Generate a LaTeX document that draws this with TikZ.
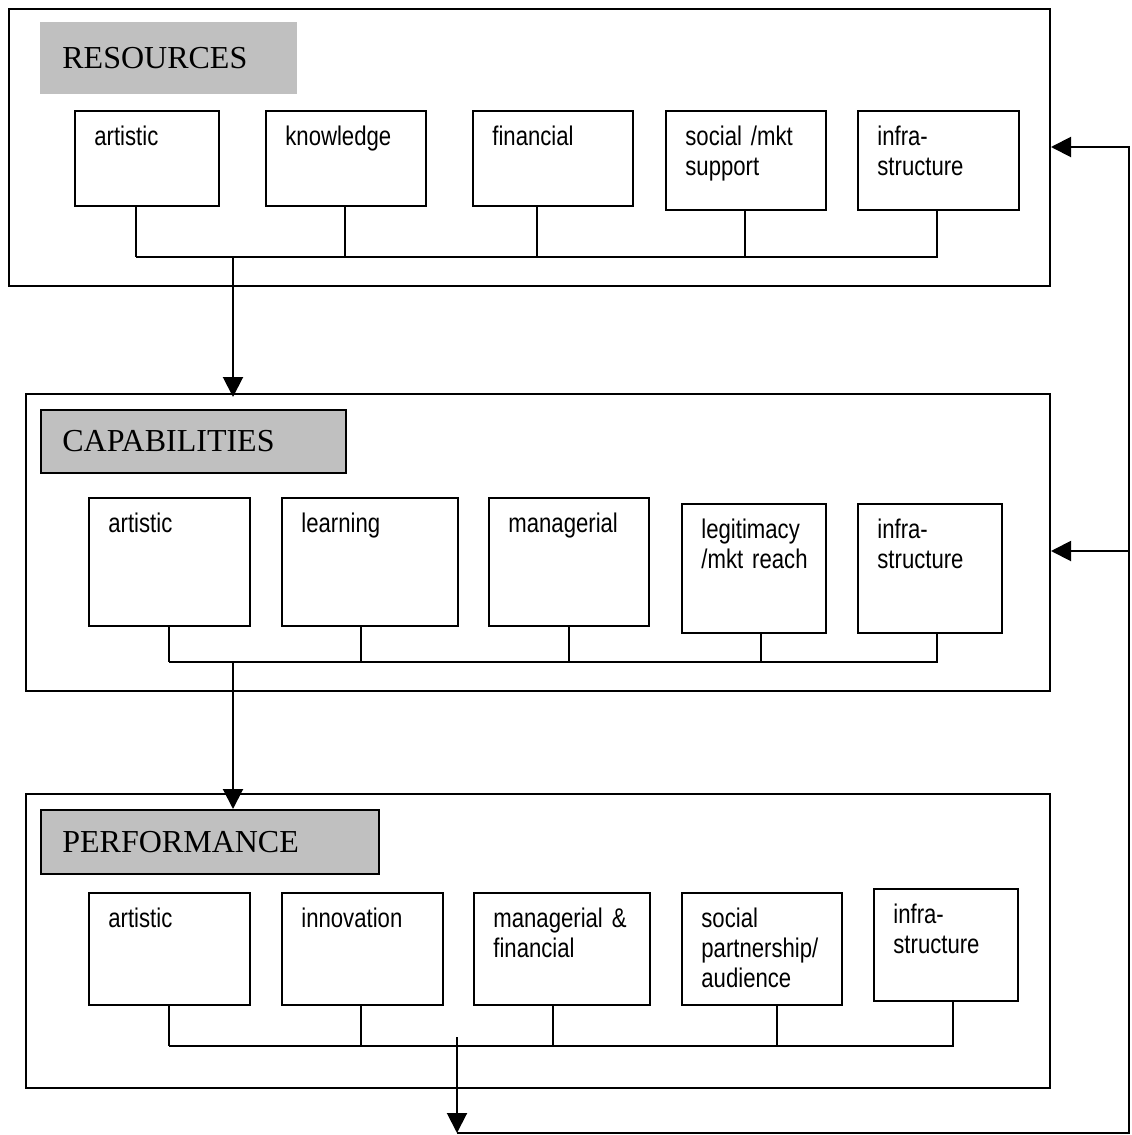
\documentclass[tikz,border=0pt]{standalone}
\usepackage{fontspec}
\setmainfont{Liberation Serif}
\newfontfamily\boxfont[FakeStretch=0.82]{Liberation Sans}
\newcommand\boxtextfont{\fontsize{13.5}{15}\selectfont\boxfont\spaceskip=3pt\relax}
\definecolor{headgray}{HTML}{C0C0C0}
\usetikzlibrary{arrows.meta}

\begin{document}
\begin{tikzpicture}[
    x=0.5pt, y=-0.5pt,
    outer/.style={draw, line width=1pt, anchor=north west, inner sep=0pt},
    head/.style={fill=headgray, anchor=north west, inner sep=0pt},
    headtxt/.style={anchor=west, xshift=11pt, inner sep=0pt,
                    font=\fontsize{16}{19}\selectfont},
    item/.style={draw, line width=1pt, anchor=north west, inner sep=0pt},
    itemtxt/.style={anchor=base west, xshift=10pt, yshift=-17.75pt, inner sep=0pt,
                    text width=75pt, align=left, font=\boxtextfont},
    bus/.style={line width=1pt},
    arr/.style={-{Triangle[length=10pt, width=10pt]}, line width=1pt}
  ]
  \useasboundingbox (0,0) rectangle (1131,1135);

  % resources
  \node[outer, minimum width=520.5pt, minimum height=138.5pt] (resbox) at (8,8) {};
  \node[head, minimum width=128.5pt, minimum height=36pt,
        label={[headtxt]west:RESOURCES}] (reshead) at (40,22) {};
  \node[item, minimum width=72pt, minimum height=47.5pt,
        label={[itemtxt]north west:artistic}] (res1) at (74,110) {};
  \node[item, minimum width=80pt, minimum height=47.5pt,
        label={[itemtxt]north west:knowledge}] (res2) at (265,110) {};
  \node[item, minimum width=80pt, minimum height=47.5pt,
        label={[itemtxt]north west:financial}] (res3) at (472,110) {};
  \node[item, minimum width=80pt, minimum height=49.5pt,
        label={[itemtxt]north west:{social /mkt\\support}}] (res4) at (665,110) {};
  \node[item, minimum width=80.5pt, minimum height=49.5pt,
        label={[itemtxt]north west:{infra-\\structure}}] (res5) at (857,110) {};

  \coordinate (resbusL) at (136,257);
  \coordinate (resbusR) at (937,257);
  \draw[bus] (resbusL) -- (resbusR);
  \foreach \b/\x in {res1/136, res2/345, res3/537, res4/745, res5/937}
    \draw[bus] (\b.south -| \x,0) |- (resbusL);

  % capabilities
  \node[outer, minimum width=512pt, minimum height=148.5pt] (capbox) at (25,393) {};
  \node[head, draw, line width=1pt, minimum width=152.5pt, minimum height=31.5pt,
        label={[headtxt]west:CAPABILITIES}] (caphead) at (40,409) {};
  \node[item, minimum width=80.5pt, minimum height=64pt,
        label={[itemtxt]north west:artistic}] (cap1) at (88,497) {};
  \node[item, minimum width=88pt, minimum height=64pt,
        label={[itemtxt]north west:learning}] (cap2) at (281,497) {};
  \node[item, minimum width=80pt, minimum height=64pt,
        label={[itemtxt]north west:managerial}] (cap3) at (488,497) {};
  \node[item, minimum width=72pt, minimum height=64.5pt,
        label={[itemtxt]north west:{legitimacy\\/mkt reach}}] (cap4) at (681,503) {};
  \node[item, minimum width=72pt, minimum height=64.5pt,
        label={[itemtxt]north west:{infra-\\structure}}] (cap5) at (857,503) {};

  \coordinate (capbusL) at (169,662);
  \coordinate (capbusR) at (937,662);
  \draw[bus] (capbusL) -- (capbusR);
  \foreach \b/\x in {cap1/169, cap2/361, cap3/569, cap4/761, cap5/937}
    \draw[bus] (\b.south -| \x,0) |- (capbusL);

  % performance
  \node[outer, minimum width=512pt, minimum height=147pt] (perfbox) at (25,793) {};
  \node[head, draw, line width=1pt, minimum width=169pt, minimum height=32pt,
        label={[headtxt]west:PERFORMANCE}] (perfhead) at (40,809) {};
  \node[item, minimum width=80.5pt, minimum height=56pt,
        label={[itemtxt]north west:artistic}] (perf1) at (88,892) {};
  \node[item, minimum width=80.5pt, minimum height=56pt,
        label={[itemtxt]north west:innovation}] (perf2) at (281,892) {};
  \node[item, minimum width=88pt, minimum height=56pt,
        label={[itemtxt]north west:{managerial \&\\financial}}] (perf3) at (473,892) {};
  \node[item, minimum width=80pt, minimum height=56pt,
        label={[itemtxt]north west:{social\\partnership/\\audience}}] (perf4) at (681,892) {};
  \node[item, minimum width=72pt, minimum height=56pt,
        label={[itemtxt]north west:{infra-\\structure}}] (perf5) at (873,888) {};

  \coordinate (perfbusL) at (169,1046);
  \coordinate (perfbusR) at (953,1046);
  \draw[bus] (perfbusL) -- (perfbusR);
  \foreach \b/\x in {perf1/169, perf2/361, perf3/553, perf4/777, perf5/953}
    \draw[bus] (\b.south -| \x,0) |- (perfbusL);

  % flow between the levels
  \coordinate (resdrop) at (233,257);
  \coordinate (capdrop) at (233,662);
  \draw[arr] (resdrop) -- ([yshift=-2pt]resdrop |- capbox.north);
  \draw[arr] (capdrop) -- (capdrop |- perfhead.north);

  % feedback loop
  \coordinate (perfdrop) at (457,1037);
  \coordinate (fbfoot) at (457,1133);
  \coordinate (fbcorner) at (1129,1133);
  \coordinate (fbtop) at (1129,147);
  \coordinate (fbmid) at (1129,551);
  \draw[arr] (perfdrop) -- (fbfoot);
  \draw[arr] (fbfoot) -- (fbcorner) -- (fbtop) -- (fbtop -| resbox.east);
  \draw[arr] (fbmid) -- (fbmid -| capbox.east);
\end{tikzpicture}
\end{document}
